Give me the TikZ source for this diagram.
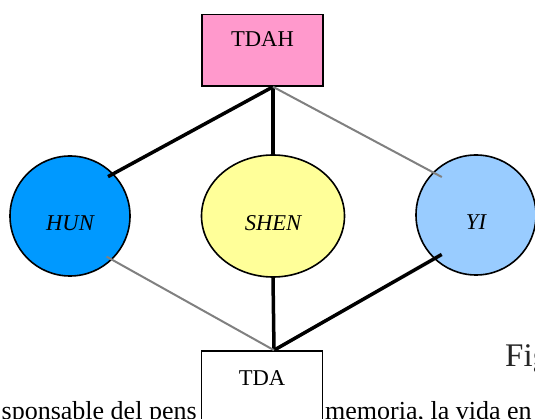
\documentclass[tikz,border=0pt]{standalone}
\usepackage{fontspec}
\setmainfont{Liberation Serif}
\usetikzlibrary{shapes.geometric,positioning,calc}
\definecolor{tdahpink}{HTML}{FF99CC}
\definecolor{hunblue}{HTML}{0099FF}
\definecolor{shenyellow}{HTML}{FFFF99}
\definecolor{yiblue}{HTML}{99CCFF}
\tikzset{
  box/.style={draw, rectangle, line width=1.6pt, minimum width=121pt, text height=15pt,
    inner ysep=17pt, anchor=base, font=\fontsize{22.6}{26}\selectfont},
  soul/.style={draw, line width=1.6pt, minimum width=120pt, minimum height=120pt,
    text height=30pt, text depth=0pt, font=\fontsize{22.6}{26}\selectfont\itshape},
  prose/.style={anchor=base west, inner sep=0pt, font=\fontsize{26}{30}\selectfont},
  boldlink/.style={line width=3.5pt},
  thinlink/.style={line width=2pt, gray},
}
\begin{document}
\begin{tikzpicture}[x=1pt,y=-1pt]
   \useasboundingbox (0,0) rectangle (535,419);
   \clip (0,0) rectangle (535,419);
   % page text round the figure
   \node[prose] (before) at (1.5,419.5) {sponsable del pens};
   \node[prose] (after) at (325,419.5) {memoria, la vida en};
   \node[prose, font=\fontsize{33}{38}\selectfont, text=black!85] (fig) at (505,366) {Fig};
   % boxes and souls
   \node[box, fill=tdahpink, text depth=22.3pt] (tdah) at (262.5,46.7) {TDAH};
   \node[soul, circle, fill=hunblue] (hun) at (70,216) {HUN};
   \node[soul, ellipse, fill=shenyellow, minimum width=143pt, minimum height=122pt] (shen) at (273,216) {SHEN};
   \node[soul, circle, fill=yiblue] (yi) at (476,215) {YI};
   \node[box, fill=white, inner ysep=19pt, text depth=50pt] (tda) at (262,385) {TDA};
    \path[boldlink]
    ([xshift=10.5pt]tdah.south) edge ($(hun)!0.9!(hun.46)$)
                                edge (shen.north)
    (shen.south) edge ([xshift=12pt]tda.north)
    ($(yi)!0.86!(yi.-131)$) edge ([xshift=12pt]tda.north);
    \path[thinlink]
    ([xshift=10.5pt]tdah.south) edge ($(yi)!0.84!(yi.132.6)$)
    ($(hun)!0.9!(hun.-48)$) edge ([xshift=12pt]tda.north);
\end{tikzpicture}
\end{document}
